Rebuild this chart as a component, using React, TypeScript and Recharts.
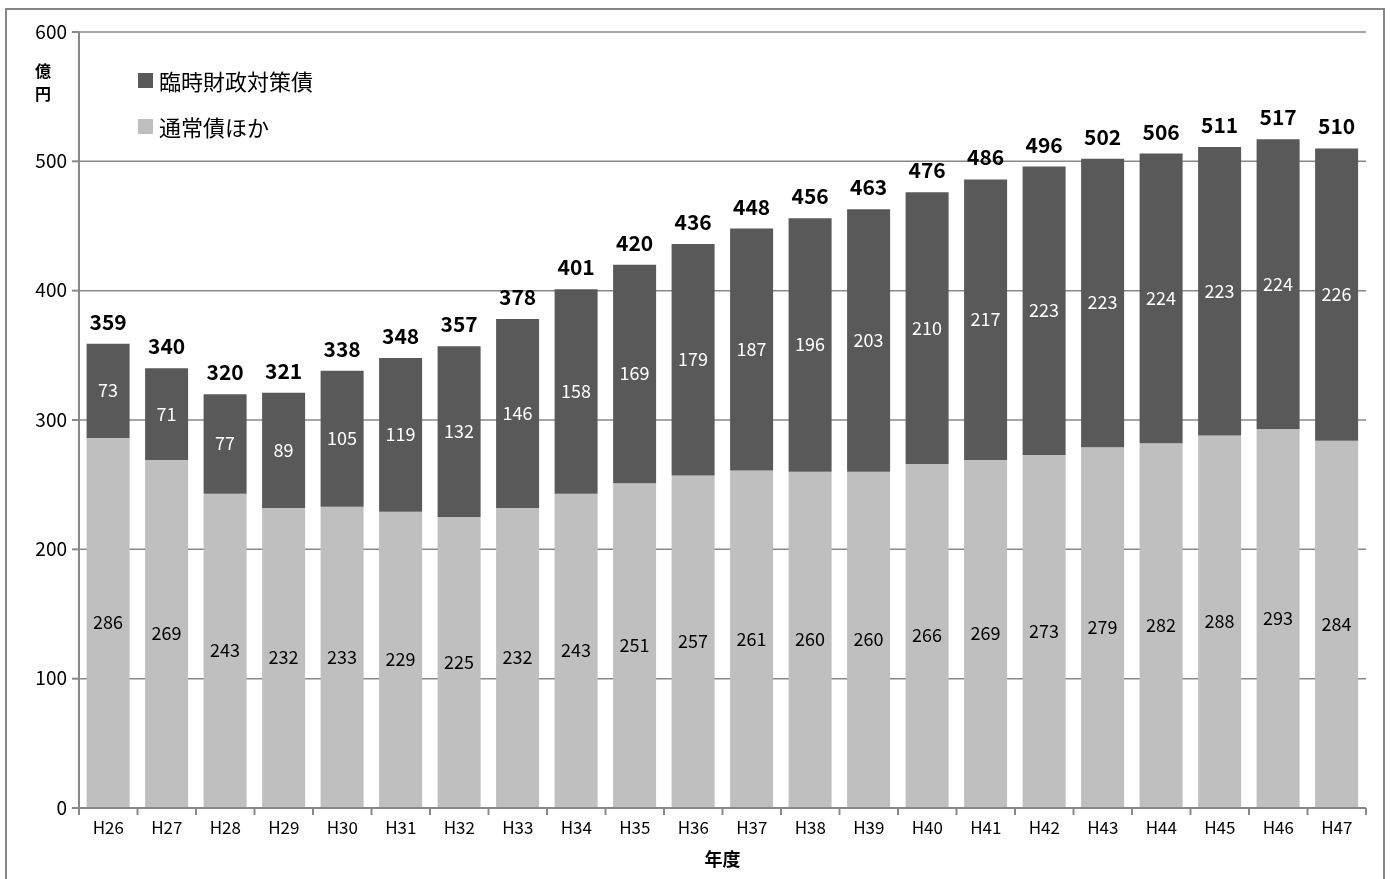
import React from 'react';
import { BarChart, Bar, XAxis, YAxis, CartesianGrid, LabelList, Label } from 'recharts';

const years = ['H26', 'H27', 'H28', 'H29', 'H30', 'H31', 'H32', 'H33', 'H34', 'H35', 'H36', 'H37', 'H38', 'H39', 'H40', 'H41', 'H42', 'H43', 'H44', 'H45', 'H46', 'H47'];
const normalDebt = [286, 269, 243, 232, 233, 229, 225, 232, 243, 251, 257, 261, 260, 260, 266, 269, 273, 279, 282, 288, 293, 284];
const rinjiDebt = [73, 71, 77, 89, 105, 119, 132, 146, 158, 169, 179, 187, 196, 203, 210, 217, 223, 223, 224, 223, 224, 226];
const totals = [359, 340, 320, 321, 338, 348, 357, 378, 401, 420, 436, 448, 456, 463, 476, 486, 496, 502, 506, 511, 517, 510];
const yTicks = [0, 100, 200, 300, 400, 500, 600];
const seriesNames = ['臨時財政対策債', '通常債ほか'];

const data = years.map((y, i) => ({ year: y, normal: normalDebt[i], rinji: rinjiDebt[i], total: totals[i] }));

const FONT = "'Noto Sans CJK JP', 'Noto Sans', sans-serif";
const DARK = '#595959';
const LIGHT = '#BFBFBF';
const AXIS = '#888888';

const CHART_W = 1378;
const CHART_H = 864;
const MARGIN = { top: 22, right: 19, left: 0, bottom: 36 };
const Y_W = 72;
const HALF_BAND = (CHART_W - MARGIN.left - MARGIN.right - Y_W) / years.length / 2;

const XTick = (props: any) => {
  const { x, y, payload, index } = props;
  return (
    <g>
      <line x1={x - HALF_BAND} x2={x - HALF_BAND} y1={y - 8} y2={y - 1} stroke={AXIS} strokeWidth={2} />
      {index === years.length - 1 && <line x1={x + HALF_BAND} x2={x + HALF_BAND} y1={y - 8} y2={y - 1} stroke={AXIS} strokeWidth={2} />}
      <text x={x} y={y + 18} textAnchor="middle" fontSize={17} fill="#000" fontFamily={FONT}>{payload.value}</text>
    </g>
  );
};

const YUnit = (props: any) => {
  const vb = props.viewBox;
  const cx = vb.x + 36;
  return (
    <g fontFamily={FONT} fontWeight="bold" fontSize={16} fill="#000">
      <text x={cx} y={vb.y + 45} textAnchor="middle">億</text>
      <text x={cx} y={vb.y + 68} textAnchor="middle">円</text>
    </g>
  );
};

export default function App() {
  return (
    <div style={{ position: 'relative', width: CHART_W, height: CHART_H, margin: '2px 0 0 -1px' }}>
      <div style={{ position: 'fixed', left: 5, top: 8, width: 1380, height: 900, border: `2px solid ${AXIS}`, boxSizing: 'border-box', pointerEvents: 'none' }} />
      <BarChart width={CHART_W} height={CHART_H} data={data} margin={MARGIN} barCategoryGap="13%">
        <CartesianGrid vertical={false} stroke={AXIS} strokeWidth={1.5} />
        <XAxis dataKey="year" stroke={AXIS} strokeWidth={2} tickLine={false} tick={<XTick />} interval={0} height={30}>
          <Label position="insideBottom" offset={-28} value="年度" style={{ fontFamily: FONT, fontWeight: 'bold', fontSize: 18, fill: '#000' }} />
        </XAxis>
        <YAxis domain={[0, 600]} ticks={yTicks} width={Y_W} stroke={AXIS} strokeWidth={2} tickSize={7} tickLine={{ stroke: AXIS, strokeWidth: 2 }}
          tick={{ fontSize: 19, fill: '#000', fontFamily: FONT }} tickMargin={5}>
          <Label content={<YUnit />} />
        </YAxis>
        <Bar dataKey="normal" stackId="a" fill={LIGHT} isAnimationActive={false}>
          <LabelList dataKey="normal" position="center" fill="#000" style={{ fontSize: 18, fontFamily: FONT }} />
        </Bar>
        <Bar dataKey="rinji" stackId="a" fill={DARK} isAnimationActive={false}>
          <LabelList dataKey="rinji" position="center" fill="#fff" style={{ fontSize: 18, fontFamily: FONT }} />
          <LabelList dataKey="total" position="top" offset={14} fill="#000" style={{ fontSize: 21, fontWeight: 'bold', fontFamily: FONT }} />
        </Bar>
      </BarChart>
      <div style={{ position: 'absolute', left: 131, top: 47, fontFamily: FONT, fontSize: 22, color: '#000', lineHeight: '46px' }}>
        {seriesNames.map((name, i) => (
          <div key={name} style={{ display: 'flex', alignItems: 'center' }}>
            <span style={{ width: 15, height: 15, background: i === 0 ? DARK : LIGHT, marginRight: 6, display: 'inline-block' }} />{name}
          </div>
        ))}
      </div>
    </div>
  );
}
